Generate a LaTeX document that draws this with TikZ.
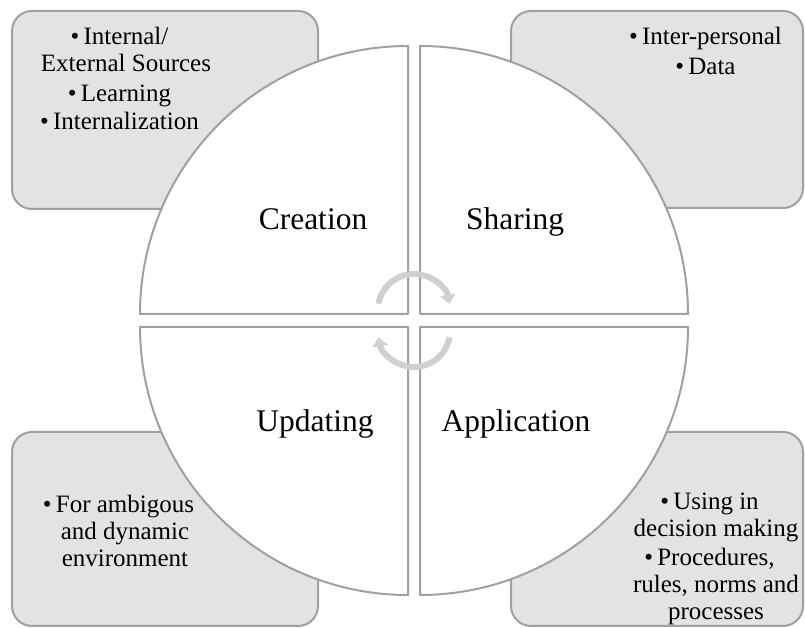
\documentclass[tikz,border=0pt]{standalone}
\usepackage{fontspec}
\setmainfont{Liberation Serif}
\usetikzlibrary{arrows.meta}
\definecolor{boxgray}{RGB}{227,227,227}
\definecolor{linegray}{RGB}{160,160,160}
\definecolor{arrowgray}{RGB}{208,208,208}
\newcommand{\bull}{\llap{\textbullet\,}}
\begin{document}
\begin{tikzpicture}[x=1pt,y=1pt,
    box/.style={draw=linegray, line width=2pt, fill=boxgray, rounded corners=20pt},
    quad/.style={draw=linegray, line width=2pt, fill=white, line join=round},
    cyc/.style={arrowgray, line width=6pt, -{Triangle[width=15pt,length=9pt]}},
    big/.style={font=\fontsize{31.5}{36}\selectfont, inner sep=0pt, anchor=base},
    small/.style={font=\fontsize{25}{27}\selectfont, align=center, inner sep=0pt, anchor=base}]
  \useasboundingbox (0,0) rectangle (805,628);
  % corner boxes
  \draw[box] (12,419) rectangle (318,617);
  \draw[box] (511,420) rectangle (803,617);
  \draw[box] (12,2) rectangle (318,196);
  \draw[box] (511,2) rectangle (803,196);
  % the four quarters
  \draw[quad] (408,314) -- (140,314) arc[start angle=180, end angle=90, radius=268] -- cycle;
  \draw[quad] (420,314) -- (420,582) arc[start angle=90, end angle=0, radius=268] -- cycle;
  \draw[quad] (408,301) -- (408,33) arc[start angle=270, end angle=180, radius=268] -- cycle;
  \draw[quad] (420,301) -- (688,301) arc[start angle=0, end angle=-90, radius=268] -- cycle;
  % cycle arrows
  \coordinate (up) at (414,318);
  \coordinate (down) at (414,297);
  \draw[cyc] (up) ++(170:36) arc[start angle=170, end angle=10, radius=36];
  \draw[cyc] (down) ++(-10:36) arc[start angle=-10, end angle=-170, radius=36];
  % labels (small ones sit on their last baseline)
  \node[big] (creation) at (313,398) {Creation};
  \node[big] (sharing) at (515,398) {Sharing};
  \node[big] (updating) at (315,196) {Updating};
  \node[big] (application) at (516,196) {Application};
  \node[small] (creationtxt) at (126,498) {\bull Internal/\\ External Sources\\[2.5pt] \bull Learning\\[1.5pt] \bull Internalization};
  \node[small] (sharingtxt) at (712,553) {\bull Inter-personal\\[3pt] \bull Data};
  \node[small] (updatingtxt) at (125,61) {\bull For ambigous\\ and dynamic\\ environment};
  \node[small] (applicationtxt) at (716,8) {\bull Using in\\ decision making\\[2pt] \bull Procedures,\\ rules, norms and\\ processes};
\end{tikzpicture}
\end{document}
